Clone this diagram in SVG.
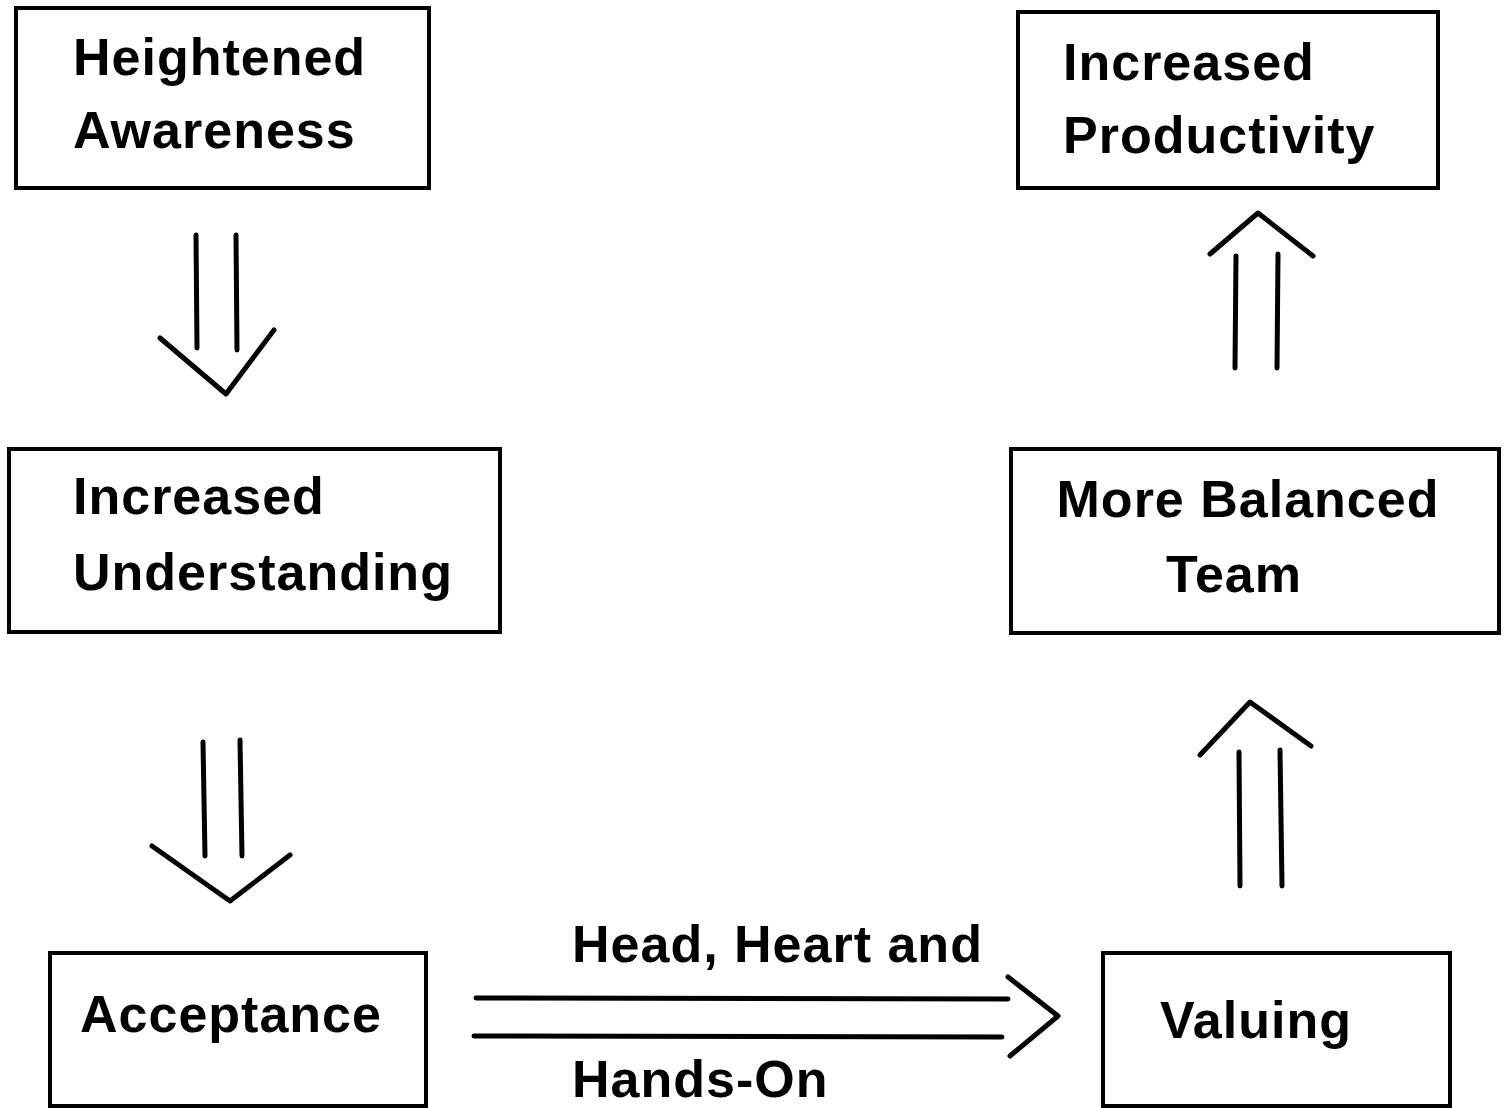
<svg xmlns="http://www.w3.org/2000/svg" width="1510" height="1108" viewBox="0 0 1510 1108">
<style>
.box{fill:none;stroke:#000;stroke-width:4}
.t{font-family:"Liberation Sans",Arial,sans-serif;font-weight:bold;font-size:52px;letter-spacing:1px;fill:#000}
.a{fill:none;stroke:#000;stroke-width:5;stroke-linecap:round;stroke-linejoin:round}
</style>
<rect width="1510" height="1108" fill="#fff"/>
<g id="node-heightened">
<rect class="box" x="16" y="8" width="413" height="180"/>
<text class="t" x="73" y="75">Heightened</text>
<text class="t" x="73" y="148">Awareness</text>
</g>
<g id="node-productivity">
<rect class="box" x="1018" y="12" width="420" height="176"/>
<text class="t" x="1063" y="80">Increased</text>
<text class="t" x="1063" y="153">Productivity</text>
</g>
<g id="node-understanding">
<rect class="box" x="9" y="449" width="491" height="183"/>
<text class="t" x="73" y="514">Increased</text>
<text class="t" x="73" y="590">Understanding</text>
</g>
<g id="node-team">
<rect class="box" x="1011" y="449" width="488" height="184"/>
<text class="t" x="1248" y="517" text-anchor="middle">More Balanced</text>
<text class="t" x="1234" y="592" text-anchor="middle">Team</text>
</g>
<g id="node-acceptance">
<rect class="box" x="50" y="953" width="376" height="153"/>
<text class="t" x="80" y="1032">Acceptance</text>
</g>
<g id="node-valuing">
<rect class="box" x="1103" y="953" width="347" height="153"/>
<text class="t" x="1160" y="1038">Valuing</text>
</g>
<g id="connectors">
<path class="a" d="M196,235 L197,348 M236,235 L237,350 M160,338 L226,394 L274,330"/>
<path class="a" d="M203,742 L205,856 M240,740 L242,856 M152,846 L230,901 L290,855"/>
<path class="a" d="M1236,256 L1235,368 M1278,254 L1277,368 M1210,254 L1258,213 L1313,256"/>
<path class="a" d="M1239,752 L1240,886 M1280,750 L1282,886 M1200,755 L1250,702 L1311,746"/>
<path class="a" d="M476,998 L1008,999 M474,1036 L1002,1037 M1008,977 L1058,1016 L1010,1056"/>
<text class="t" x="572" y="962">Head, Heart and</text>
<text class="t" x="572" y="1097">Hands-On</text>
</g>
</svg>
